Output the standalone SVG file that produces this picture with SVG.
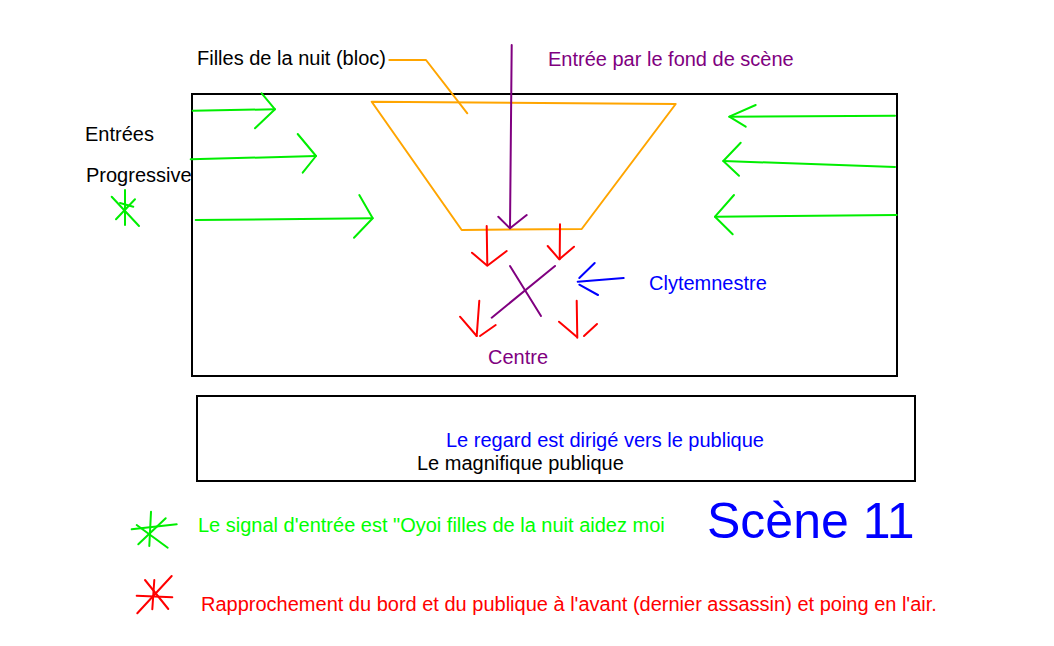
<svg xmlns="http://www.w3.org/2000/svg" width="1054" height="646" viewBox="0 0 1054 646">
<style>
text{font-family:"Liberation Sans",Arial,sans-serif;font-size:20px}
.k{fill:#000}
.pu{fill:#800080}
.bl{fill:#0000ff}
.gr{fill:#00ff00}
.rd{fill:#ff0000}
.box{fill:none;stroke:#000;stroke-width:2}
.s{fill:none;stroke-width:2;stroke-linecap:round;stroke-linejoin:round}
.g{stroke:#00ee00}
.r{stroke:#ff0000}
.p{stroke:#800080}
.b{stroke:#0000ff}
.o{stroke:#ffa500}
</style>
<rect width="1054" height="646" fill="#fff"/>
<g id="stage"><rect class="box" x="192" y="94" width="705" height="282"/></g>
<g id="public"><rect class="box" x="197" y="396" width="718" height="85"/></g>
<g id="filles-bloc">
<polygon class="s o" points="371.7,101.7 675.7,104 581.7,229 461.7,230"/>
<text class="k" x="197" y="65">Filles de la nuit (bloc)</text>
</g>
<g id="connectors">
<polyline class="s o" points="389.3,60 426,60 467.3,113.3"/>
<line class="s p" x1="511.7" y1="45" x2="510" y2="228.3"/>
<polyline class="s p" points="498.3,216.7 510,228.3 526.7,215"/>
<line class="s g" x1="192.7" y1="110.7" x2="275" y2="109.3"/>
<polyline class="s g" points="261.7,93.3 275,109.3 255,128.3"/>
<line class="s g" x1="190.7" y1="159.3" x2="316" y2="156"/>
<polyline class="s g" points="297.7,134 316,156 302.7,172.7"/>
<line class="s g" x1="195.7" y1="220" x2="372.7" y2="218.3"/>
<polyline class="s g" points="359.3,195 372.7,218.3 354,237.7"/>
<line class="s g" x1="895" y1="115.7" x2="729.3" y2="116.7"/>
<polyline class="s g" points="755.7,105 729.3,116.7 745.7,126.7"/>
<line class="s g" x1="895" y1="167" x2="723.3" y2="161"/>
<polyline class="s g" points="740.7,142.7 723.3,161 739,175.7"/>
<line class="s g" x1="896.7" y1="215" x2="715" y2="216.7"/>
<polyline class="s g" points="734,195 715,216.7 732.7,234.3"/>
<line class="s r" x1="486.7" y1="226" x2="487.3" y2="265"/>
<polyline class="s r" points="472,252.7 487.3,265.7 506.7,251"/>
<line class="s r" x1="560" y1="224.3" x2="559.7" y2="259.3"/>
<polyline class="s r" points="547.7,246 559.3,259.3 574,246.7"/>
<line class="s r" x1="479.3" y1="300.7" x2="476.7" y2="336"/>
<line class="s r" x1="460" y1="316.7" x2="476.7" y2="336"/>
<line class="s r" x1="480" y1="336" x2="495.7" y2="325"/>
<line class="s r" x1="576.7" y1="300.7" x2="577.3" y2="337.7"/>
<line class="s r" x1="559" y1="321.7" x2="576.7" y2="336.7"/>
<line class="s r" x1="584" y1="336" x2="597" y2="324"/>
<line class="s p" x1="491.7" y1="317.7" x2="555" y2="266"/>
<line class="s p" x1="510" y1="266" x2="541" y2="316"/>
<line class="s b" x1="577.7" y1="281.7" x2="623.7" y2="278"/>
<line class="s b" x1="579.3" y1="278" x2="594.7" y2="263"/>
<line class="s b" x1="579.3" y1="284.7" x2="598" y2="295"/>
<line class="s g" x1="125" y1="190" x2="125" y2="225"/>
<line class="s g" x1="111.7" y1="196.7" x2="139" y2="226"/>
<line class="s g" x1="116" y1="219.3" x2="135" y2="199.3"/>
<line class="s g" x1="120" y1="203" x2="133.3" y2="206.7"/>
</g>
<g id="labels">
<text class="pu" x="548" y="66">Entrée par le fond de scène</text>
<text class="k" x="85" y="141">Entrées</text>
<text class="k" x="86" y="182">Progressive</text>
<text class="bl" x="649" y="290">Clytemnestre</text>
<text class="pu" x="488" y="364">Centre</text>
<text class="bl" x="446" y="447">Le regard est dirigé vers le publique</text>
<text class="k" x="417" y="470">Le magnifique publique</text>
</g>
<g id="legend">
<line class="s g" x1="151" y1="511.7" x2="149.3" y2="546"/>
<line class="s g" x1="131.7" y1="529.3" x2="176.7" y2="524.3"/>
<line class="s g" x1="136.7" y1="525" x2="167.7" y2="547.7"/>
<line class="s g" x1="165.7" y1="518.3" x2="138.3" y2="544.3"/>
<text class="gr" x="198" y="532">Le signal d'entrée est "Oyoi filles de la nuit aidez moi</text>
<line class="s r" x1="171.7" y1="576" x2="137.3" y2="613.3"/>
<line class="s r" x1="136.7" y1="595.7" x2="172.3" y2="597.3"/>
<line class="s r" x1="145" y1="580" x2="168.3" y2="609"/>
<line class="s r" x1="154.3" y1="580" x2="152.3" y2="609.3"/>
<text class="rd" x="201" y="611">Rapprochement du bord et du publique à l'avant (dernier assassin) et poing en l'air.</text>
</g>
<g id="title"><text class="bl" x="707" y="538" style="font-size:50px">Scène 11</text></g>
</svg>
